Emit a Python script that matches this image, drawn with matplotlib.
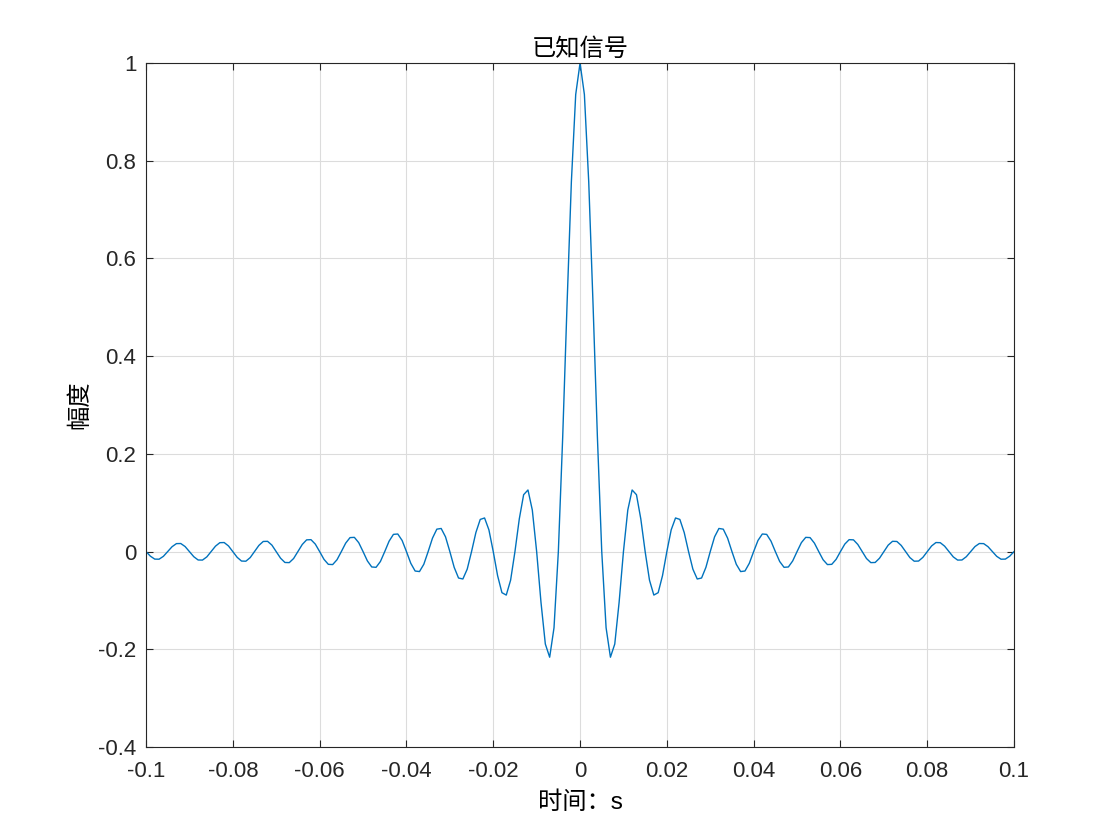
import numpy as np
import matplotlib
matplotlib.use("Agg")
import matplotlib.pyplot as plt

plt.rcParams['font.family'] = ['Liberation Sans', 'Noto Sans CJK SC', 'DejaVu Sans']
plt.rcParams['axes.unicode_minus'] = False

# amplitude samples for t = 0, 0.001, ..., 0.1 (signal is symmetric about t = 0)
half_amp = [1.0, 0.9355, 0.7568, 0.5046, 0.2339, 0.0, -0.1559, -0.2162, -0.1892, -0.1039,
            0.0, 0.0850, 0.1261, 0.1164, 0.0668, 0.0, -0.0585, -0.0890, -0.0841, -0.0492,
            0.0, 0.0445, 0.0688, 0.0658, 0.0390, 0.0, -0.0360, -0.0561, -0.0541, -0.0323,
            0.0, 0.0302, 0.0473, 0.0459, 0.0275, 0.0, -0.0260, -0.0409, -0.0398, -0.0240,
            0.0, 0.0228, 0.0360, 0.0352, 0.0213, 0.0, -0.0203, -0.0322, -0.0315, -0.0191,
            0.0, 0.0183, 0.0291, 0.0286, 0.0173, 0.0, -0.0167, -0.0266, -0.0261, -0.0159,
            0.0, 0.0153, 0.0244, 0.0240, 0.0146, 0.0, -0.0142, -0.0226, -0.0223, -0.0136,
            0.0, 0.0132, 0.0210, 0.0207, 0.0126, 0.0, -0.0123, -0.0197, -0.0194, -0.0118,
            0.0, 0.0115, 0.0185, 0.0182, 0.0111, 0.0, -0.0109, -0.0174, -0.0172, -0.0105,
            0.0, 0.0103, 0.0165, 0.0163, 0.0100, 0.0, -0.0097, -0.0156, -0.0154, -0.0094,
            0.0]
amp = half_amp[::-1] + half_amp[1:]
t = np.linspace(-0.1, 0.1, len(amp))

x_ticks = [-0.1, -0.08, -0.06, -0.04, -0.02, 0, 0.02, 0.04, 0.06, 0.08, 0.1]
x_labels = ['-0.1', '-0.08', '-0.06', '-0.04', '-0.02', '0', '0.02', '0.04', '0.06', '0.08', '0.1']
y_ticks = [-0.4, -0.2, 0, 0.2, 0.4, 0.6, 0.8, 1]
y_labels = ['-0.4', '-0.2', '0', '0.2', '0.4', '0.6', '0.8', '1']

fig = plt.figure(figsize=(11.2, 8.4), dpi=100)
ax = fig.add_axes([0.1304, 0.1107, 0.7750, 0.8143])
ax.plot(t, amp, color='#0072BD', lw=1.0)
ax.set_xlim(-0.1, 0.1)
ax.set_ylim(-0.4, 1)
ax.set_xticks(x_ticks)
ax.set_xticklabels(x_labels)
ax.set_yticks(y_ticks)
ax.set_yticklabels(y_labels)
ax.grid(True, color='#dcdcdc', lw=0.8)
ax.set_axisbelow(True)
for s in ax.spines.values():
    s.set_color('#262626')
    s.set_linewidth(0.8)
ax.tick_params(direction='in', top=True, right=True, length=5, width=0.8,
               colors='#262626', labelsize=16)
ax.tick_params(axis='x', pad=10)
ax.tick_params(axis='y', pad=7)
ax.set_title('已知信号', fontsize=17.5, color='#000000', pad=5)
ax.set_xlabel('时间：s', fontsize=17.5, labelpad=7)
ax.set_ylabel('幅度', fontsize=17.5, labelpad=5)
fig.savefig('out.png', dpi=100)
